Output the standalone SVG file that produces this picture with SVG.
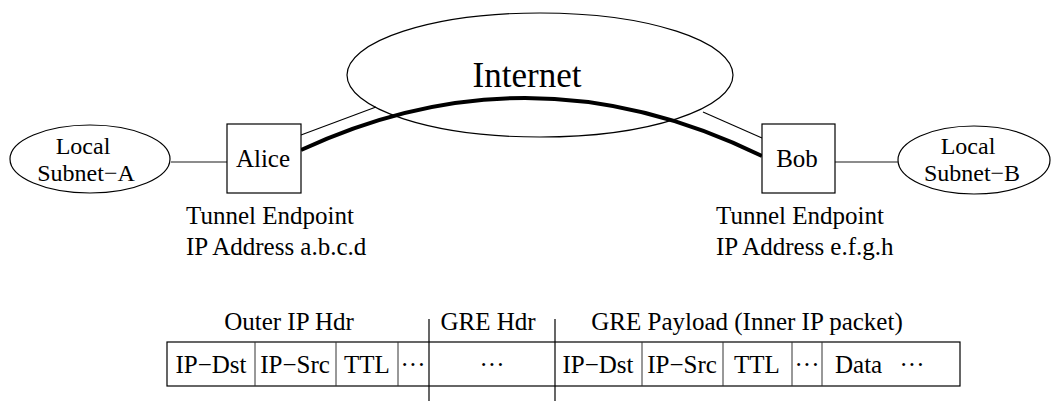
<svg xmlns="http://www.w3.org/2000/svg" width="1054" height="401" viewBox="0 0 1054 401">
<style>
text{font-family:"Liberation Serif","Times New Roman",serif;font-size:25px;fill:#000}
.c{text-anchor:middle}
.s{font-size:24px}
.shape{fill:#fff;stroke:#000;stroke-width:1.2}
.link{stroke:#666;stroke-width:1.6;fill:none}
.thin{stroke:#000;stroke-width:1.1;fill:none}
.div{stroke:#333;stroke-width:1;fill:none}
.gre{stroke:#000;stroke-width:1.2;fill:none}
</style>
<rect width="1054" height="401" fill="#fff"/>
<g id="internet">
<ellipse class="shape" cx="540" cy="75" rx="193" ry="62"/>
<text class="c" x="527" y="87" style="font-size:35px">Internet</text>
</g>
<g id="connectors">
<line class="link" x1="171" y1="162" x2="227" y2="162"/>
<line class="link" x1="835" y1="162" x2="898" y2="162"/>
<line class="thin" x1="301" y1="135" x2="376" y2="107"/>
<line class="thin" x1="703" y1="112" x2="762" y2="138"/>
<path d="M301,150 Q531,43 762,156" fill="none" stroke="#000" stroke-width="4"/>
</g>
<g id="subnet-a">
<ellipse class="shape" cx="90" cy="159" rx="80" ry="34"/>
<text class="c s" x="83" y="154">Local</text>
<text class="c s" x="86" y="181">Subnet−A</text>
</g>
<g id="alice">
<rect class="shape" x="227" y="124" width="74" height="69"/>
<text class="c" x="263" y="167">Alice</text>
<text x="186" y="224">Tunnel Endpoint</text>
<text x="186" y="255">IP Address a.b.c.d</text>
</g>
<g id="bob">
<rect class="shape" x="762" y="124" width="73" height="69"/>
<text class="c" x="797" y="167">Bob</text>
<text x="716" y="224">Tunnel Endpoint</text>
<text x="716" y="255">IP Address e.f.g.h</text>
</g>
<g id="subnet-b">
<ellipse class="shape" cx="974" cy="160" rx="76" ry="34"/>
<text class="c s" x="968" y="154">Local</text>
<text class="c s" x="972" y="181">Subnet−B</text>
</g>
<g id="packet">
<text class="c" x="289" y="330">Outer IP Hdr</text>
<text class="c" x="488" y="330">GRE Hdr</text>
<text class="c" x="747" y="330">GRE Payload (Inner IP packet)</text>
<rect x="167" y="342" width="793" height="44" fill="#fff" stroke="#000" stroke-width="1.2"/>
<line class="div" x1="255" y1="342" x2="255" y2="386"/>
<line class="div" x1="336" y1="342" x2="336" y2="386"/>
<line class="div" x1="398" y1="342" x2="398" y2="386"/>
<line class="div" x1="642" y1="342" x2="642" y2="386"/>
<line class="div" x1="723" y1="342" x2="723" y2="386"/>
<line class="div" x1="792" y1="342" x2="792" y2="386"/>
<line class="div" x1="822" y1="342" x2="822" y2="386"/>
<line class="gre" x1="429" y1="319" x2="429" y2="401"/>
<line class="gre" x1="555" y1="319" x2="555" y2="401"/>
<text class="c" x="211" y="373">IP−Dst</text>
<text class="c" x="295" y="373">IP−Src</text>
<text class="c" x="367" y="373">TTL</text>
<text class="c" x="413" y="373">···</text>
<text class="c" x="492" y="373">···</text>
<text class="c" x="598" y="373">IP−Dst</text>
<text class="c" x="682" y="373">IP−Src</text>
<text class="c" x="757" y="373">TTL</text>
<text class="c" x="807" y="373">···</text>
<text x="835" y="373">Data</text>
<text class="c" x="912" y="373">···</text>
</g>
</svg>
